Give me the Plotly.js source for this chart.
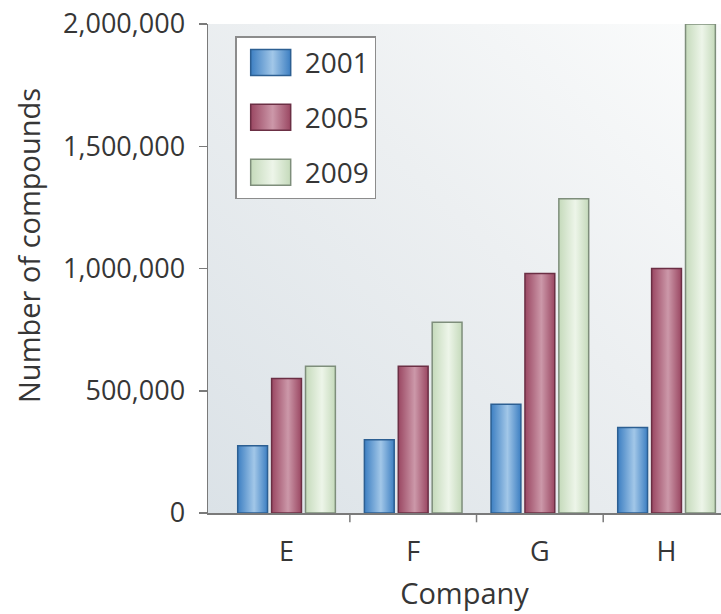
<!DOCTYPE html>
<html>
<head>
<meta charset="utf-8">
<script src="https://cdn.plot.ly/plotly-3.0.1.min.js"></script>
<style>
  html, body { margin: 0; padding: 0; background: #ffffff; }
  #chart { width: 721px; height: 614px; }
</style>
</head>
<body>
<div id="chart"></div>
<script>
// ---- data ----
const categories = ['E', 'F', 'G', 'H'];
const years = ['2001', '2005', '2009'];
const values2001 = [275000, 300000, 445000, 350000];
const values2005 = [550000, 600000, 980000, 1000000];
const values2009 = [600000, 780000, 1285000, 2000000];
const yTickVals = [0, 500000, 1000000, 1500000, 2000000];
const xBoundaryTicks = [0.5, 1.5, 2.5];

// ---- styles ----
const FONT = 'Open Sans, Noto Sans, sans-serif';
const TEXT = '#363636';
const AXIS = '#7a7a7a';
const styles = [
  { fill: '#5b97d3', line: '#2c5f92', edge: '#3d7fc2', hi: '#a2c7e8' },
  { fill: '#a85a72', line: '#6b2f44', edge: '#9a4762', hi: '#cc98a9' },
  { fill: '#d6e8cf', line: '#7e8e7b', edge: '#c5dabb', hi: '#edf5e9' }
];
const series = [values2001, values2005, values2009];

const data = series.map((vals, i) => ({
  type: 'bar',
  name: years[i],
  x: categories,
  y: vals,
  legendgroup: 'g' + i,
  marker: { color: styles[i].fill, line: { color: styles[i].line, width: 1.5 } },
  hoverinfo: 'skip'
}));

const bgSvg = '<svg xmlns="http://www.w3.org/2000/svg" width="100" height="100" preserveAspectRatio="none">' +
  '<defs><linearGradient id="g" x1="0" y1="1" x2="1" y2="0">' +
  '<stop offset="0" stop-color="#dbe2e7"/><stop offset="0.55" stop-color="#eceff1"/><stop offset="1" stop-color="#fbfcfc"/>' +
  '</linearGradient></defs><rect width="100" height="100" fill="url(#g)"/></svg>';

const tickShapes = xBoundaryTicks.map(v => ({
  type: 'line', xref: 'x', yref: 'paper',
  x0: v, x1: v, y0: 0, y1: -0.019,
  line: { color: AXIS, width: 1.5 }
}));

const layout = {
  width: 721, height: 614,
  margin: { l: 208, r: 0, t: 24, b: 101, pad: 0 },
  paper_bgcolor: '#ffffff',
  plot_bgcolor: 'rgba(0,0,0,0)',
  font: { family: FONT, color: TEXT, size: 27 },
  barmode: 'group',
  bargap: 0.197,
  bargroupgap: 0.12,
  showlegend: true,
  legend: {
    x: 0.053, y: 0.975, xanchor: 'left', yanchor: 'top',
    bgcolor: '#ffffff', bordercolor: '#8c8c8c', borderwidth: 1.5,
    font: { family: FONT, size: 28, color: TEXT },
    traceorder: 'grouped', tracegroupgap: 15.5, itemwidth: 58
  },
  xaxis: {
    type: 'category',
    range: [-0.62, 3.43],
    showline: true, linecolor: AXIS, linewidth: 1.5,
    ticks: '', showgrid: false, zeroline: false,
    ticklabelstandoff: 14,
    tickfont: { family: FONT, size: 27, color: TEXT },
    title: { text: 'Company', font: { family: FONT, size: 29, color: TEXT }, standoff: 16 }
  },
  yaxis: {
    range: [0, 2000000],
    tickmode: 'array', tickvals: yTickVals, tickformat: ',d',
    ticks: 'outside', ticklen: 8, tickwidth: 1.5, tickcolor: AXIS,
    showline: true, linecolor: AXIS, linewidth: 1.5,
    showgrid: false, zeroline: false,
    ticklabelstandoff: 8,
    tickfont: { family: FONT, size: 27, color: TEXT }
  },
  annotations: [{
    text: 'Number of compounds', textangle: -90,
    xref: 'paper', yref: 'paper', x: -0.351, y: 0.548,
    xanchor: 'center', yanchor: 'middle', showarrow: false,
    font: { family: FONT, size: 29, color: TEXT }
  }],
  shapes: tickShapes,
  images: [{
    source: 'data:image/svg+xml;charset=utf-8,' + encodeURIComponent(bgSvg),
    xref: 'paper', yref: 'paper', x: 0, y: 1, sizex: 1, sizey: 1,
    sizing: 'stretch', layer: 'below'
  }]
};

const gd = document.getElementById('chart');
Plotly.newPlot(gd, data, layout, { staticPlot: true, displayModeBar: false }).then(() => {
  const NS = 'http://www.w3.org/2000/svg';
  const svg = gd.querySelector('svg.main-svg');
  let defs = svg.querySelector('defs');
  if (!defs) { defs = document.createElementNS(NS, 'defs'); svg.insertBefore(defs, svg.firstChild); }
  styles.forEach((s, i) => {
    const lg = document.createElementNS(NS, 'linearGradient');
    lg.setAttribute('id', 'barGrad' + i);
    lg.setAttribute('x1', '0'); lg.setAttribute('y1', '0');
    lg.setAttribute('x2', '1'); lg.setAttribute('y2', '0');
    [[0, s.edge], [0.55, s.hi], [1, s.edge]].forEach(([o, c]) => {
      const st = document.createElementNS(NS, 'stop');
      st.setAttribute('offset', o); st.setAttribute('stop-color', c);
      lg.appendChild(st);
    });
    defs.appendChild(lg);
  });
  gd.querySelectorAll('.barlayer .trace').forEach((tr, i) => {
    tr.querySelectorAll('path').forEach(p => { p.style.fill = 'url(#barGrad' + i + ')'; });
  });
  gd.querySelectorAll('.legend .traces').forEach((tr, i) => {
    tr.querySelectorAll('.legendpoints path').forEach(p => {
      p.setAttribute('d', 'M20,13H-20V-13H20Z');
      p.style.fill = 'url(#barGrad' + i + ')';
    });
  });
});
</script>
</body>
</html>
